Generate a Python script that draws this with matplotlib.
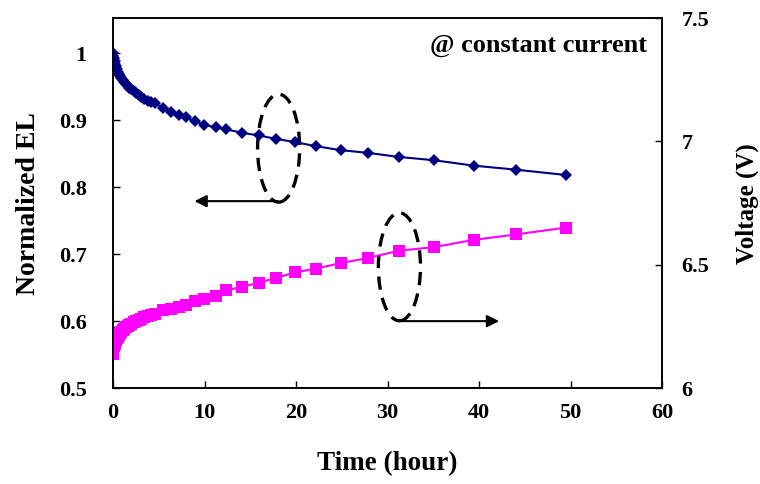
"""
Normalized EL and drive voltage vs. time at constant current
"""

import matplotlib.pyplot as plt
from matplotlib.patches import Ellipse
from matplotlib.ticker import FormatStrFormatter

plt.rcParams["font.family"] = ["Liberation Serif", "DejaVu Serif"]
plt.rcParams["font.weight"] = "bold"

time_h = [0, 0.05, 0.1, 0.17, 0.25, 0.33, 0.42, 0.5, 0.62, 0.75, 0.9, 1.05,
          1.2, 1.4, 1.6, 1.8, 2.0, 2.25, 2.5, 2.8, 3.1, 3.4, 3.8, 4.2, 4.6,
          5.5, 6.3, 7.2, 8.0, 9.0, 9.9, 11.3, 12.4, 14.1, 15.9, 17.8, 19.9,
          22.2, 24.9, 27.9, 31.2, 35.1, 39.4, 44.0, 49.5]

norm_el = [1.000, 0.996, 0.992, 0.988, 0.984, 0.980, 0.976, 0.972, 0.968,
           0.965, 0.962, 0.959, 0.957, 0.954, 0.951, 0.948, 0.946, 0.943,
           0.940, 0.937, 0.934, 0.932, 0.929, 0.927, 0.925, 0.918, 0.912,
           0.907, 0.904, 0.898, 0.893, 0.889, 0.886, 0.881, 0.877, 0.872,
           0.867, 0.861, 0.855, 0.851, 0.845, 0.840, 0.832, 0.826, 0.818]

voltage = [6.140, 6.160, 6.170, 6.180, 6.190, 6.197, 6.203, 6.208, 6.215,
           6.222, 6.228, 6.234, 6.240, 6.246, 6.252, 6.257, 6.262, 6.267,
           6.272, 6.277, 6.282, 6.287, 6.292, 6.297, 6.301, 6.316, 6.320,
           6.328, 6.336, 6.355, 6.361, 6.374, 6.397, 6.411, 6.427, 6.447,
           6.469, 6.485, 6.507, 6.528, 6.557, 6.572, 6.601, 6.623, 6.651]

el_ticks = [0.5, 0.6, 0.7, 0.8, 0.9, 1.0]
v_ticks = [6, 6.5, 7, 7.5]
t_ticks = [0, 10, 20, 30, 40, 50, 60]

fig = plt.figure(figsize=(7.6, 4.84), dpi=100)
ax = fig.add_axes([0.1487, 0.198, 0.7224, 0.7645])
ax2 = ax.twinx()

ax.plot(time_h, norm_el, color="#000080", marker="D", markersize=6.5,
        linewidth=1.5, markeredgewidth=0)
ax2.plot(time_h, voltage, color="#FF00FF", marker="s", markersize=8,
         linewidth=1.5, markeredgewidth=0)

ax.set_xlim(0, 60)
ax.set_ylim(0.5, 1.052)
ax2.set_ylim(6, 7.5)
ax.set_xticks(t_ticks)
ax.set_yticks(el_ticks)
ax2.set_yticks(v_ticks)
ax.yaxis.set_major_formatter(FormatStrFormatter("%g"))
ax2.yaxis.set_major_formatter(FormatStrFormatter("%g"))

for a in (ax, ax2):
    a.tick_params(direction="in", length=5, width=1, labelsize=16)
    for s in a.spines.values():
        s.set_linewidth(1.2)
ax.tick_params(axis="y", pad=19)
ax.tick_params(axis="x", pad=11)
ax2.tick_params(axis="y", pad=14)

ax.set_xlabel("Time (hour)", fontsize=19.5, fontweight="bold", labelpad=20)
ax.set_ylabel("Normalized EL", fontsize=20, fontweight="bold", labelpad=13)
ax2.set_ylabel("Voltage (V)", fontsize=18, fontweight="bold", labelpad=19)

ax.text(0.973, 0.927, "@ constant current", transform=ax.transAxes,
        ha="right", va="center", fontsize=19, fontweight="bold")

# dashed ellipses with arrows pointing to the matching axis
for cx, cy, x0, x1, ay in [(18.1, 0.858, 18.0, 8.9, 0.779),
                           (31.3, 0.681, 31.7, 42.2, 0.600)]:
    ax.add_patch(Ellipse((cx, cy), 4.6, 0.161, fill=False, edgecolor="black",
                         linewidth=2.4, linestyle=(0, (4, 2.5))))
    ax.annotate("", xy=(x1, ay), xytext=(x0, ay),
                arrowprops=dict(arrowstyle="-|>", color="black", lw=1.5,
                                mutation_scale=18, shrinkA=0, shrinkB=0))

fig.savefig("out.png", dpi=100)
